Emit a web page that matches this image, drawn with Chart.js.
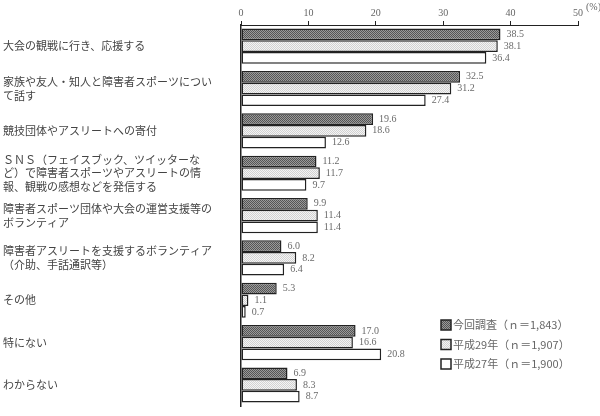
<!DOCTYPE html>
<html>
<head>
<meta charset="utf-8">
<script src="https://cdn.jsdelivr.net/npm/chart.js@4"></script>
<style>
  html, body { margin: 0; padding: 0; background: #fff; }
</style>
</head>
<body>
<canvas id="chart" width="600" height="416"></canvas>
<script>
// Données du graphique
const categories = [
    '大会の観戦に行き、応援する',
    ['家族や友人・知人と障害者スポーツについ', 'て話す'],
    '競技団体やアスリートへの寄付',
    ['ＳＮＳ（フェイスブック、ツイッターな', 'ど）で障害者スポーツやアスリートの情', '報、観戦の感想などを発信する'],
    ['障害者スポーツ団体や大会の運営支援等の', 'ボランティア'],
    ['障害者アスリートを支援するボランティア', '（介助、手話通訳等）'],
    'その他',
    '特にない',
    'わからない'
];
const seriesNames = ['今回調査（ｎ＝1,843）', '平成29年（ｎ＝1,907）', '平成27年（ｎ＝1,900）'];
const valuesCurrent = [38.5, 32.5, 19.6, 11.2, 9.9, 6.0, 5.3, 17.0, 6.9];
const valuesH29 = [38.1, 31.2, 18.6, 11.7, 11.4, 8.2, 1.1, 16.6, 8.3];
const valuesH27 = [36.4, 27.4, 12.6, 9.7, 11.4, 6.4, 0.7, 20.8, 8.7];
const xTicks = [0, 10, 20, 30, 40, 50];

const serif = "'Liberation Serif', 'Noto Sans CJK JP', serif";
const jpFont = "'Noto Sans CJK JP', sans-serif";

// Motifs de remplissage (trame sombre et trame claire)
function makePattern(c1, c2) {
    const p = document.createElement('canvas');
    p.width = 2; p.height = 2;
    const g = p.getContext('2d');
    g.fillStyle = c1; g.fillRect(0, 0, 2, 2);
    g.fillStyle = c2; g.fillRect(0, 0, 1, 1); g.fillRect(1, 1, 1, 1);
    return document.getElementById('chart').getContext('2d').createPattern(p, 'repeat');
}
const fillDark = makePattern('#9a9a9a', '#555555');
const fillLight = makePattern('#f4f4f4', '#d2d2d2');
const fillWhite = '#ffffff';
const fills = [fillDark, fillLight, fillWhite];

// Étiquettes de valeurs à droite des barres
const valueLabels = {
    id: 'valueLabels',
    afterDatasetsDraw(chart) {
        const ctx = chart.ctx;
        ctx.save();
        ctx.font = '10px ' + serif;
        ctx.fillStyle = '#6a6a6a';
        ctx.textBaseline = 'middle';
        ctx.textAlign = 'left';
        chart.data.datasets.forEach((ds, i) => {
            chart.getDatasetMeta(i).data.forEach((bar, j) => {
                ctx.fillText(ds.data[j].toFixed(1), bar.x + 6, bar.y);
            });
        });
        ctx.restore();
    }
};

// Légende dessinée à la main + unité (%)
const customLegend = {
    id: 'customLegend',
    afterDraw(chart) {
        const ctx = chart.ctx;
        ctx.save();
        ctx.font = '10px ' + serif;
        ctx.fillStyle = '#666';
        ctx.textAlign = 'left';
        ctx.textBaseline = 'top';
        ctx.fillText('(%)', 586, 2);
        ctx.font = '11px ' + jpFont;
        ctx.textBaseline = 'middle';
        chart.data.datasets.forEach((ds, i) => {
            const y = 325 + i * 19.5;
            ctx.fillStyle = ds.backgroundColor;
            ctx.fillRect(441, y - 5, 10, 10);
            ctx.strokeStyle = '#222';
            ctx.lineWidth = 1.5;
            ctx.strokeRect(441, y - 5, 10, 10);
            ctx.fillStyle = '#666';
            ctx.fillText(ds.label, 453, y);
        });
        ctx.restore();
    }
};

new Chart(document.getElementById('chart'), {
    type: 'bar',
    data: {
        labels: categories,
        datasets: [valuesCurrent, valuesH29, valuesH27].map((vals, i) => ({
            label: seriesNames[i],
            data: vals,
            backgroundColor: fills[i],
            borderColor: '#222',
            borderWidth: 1.5,
            borderSkipped: false,
            categoryPercentage: 0.83,
            barPercentage: 1.0
        }))
    },
    options: {
        indexAxis: 'y',
        responsive: false,
        animation: false,
        devicePixelRatio: 1,
        layout: { padding: { left: 3, right: 22, top: 0, bottom: 0 } },
        plugins: {
            legend: { display: false },
            tooltip: { enabled: false }
        },
        scales: {
            x: {
                position: 'top',
                min: 0,
                max: 50,
                afterBuildTicks: s => { s.ticks = xTicks.map(v => ({ value: v })); },
                afterFit: s => { s.height = 25; },
                ticks: {
                    color: '#666',
                    font: { family: serif, size: 10 },
                    padding: 2,
                    maxRotation: 0
                },
                grid: {
                    drawOnChartArea: false,
                    tickLength: 4,
                    color: '#222'
                },
                border: { color: '#222', width: 1 }
            },
            y: {
                afterFit: s => { s.width = 238; },
                ticks: {
                    crossAlign: 'far',
                    color: '#444',
                    font: { family: jpFont, size: 11, lineHeight: 1.25 },
                    autoSkip: false
                },
                grid: { display: false },
                border: { color: '#222', width: 1.5 }
            }
        }
    },
    plugins: [valueLabels, customLegend]
});
</script>
</body>
</html>
